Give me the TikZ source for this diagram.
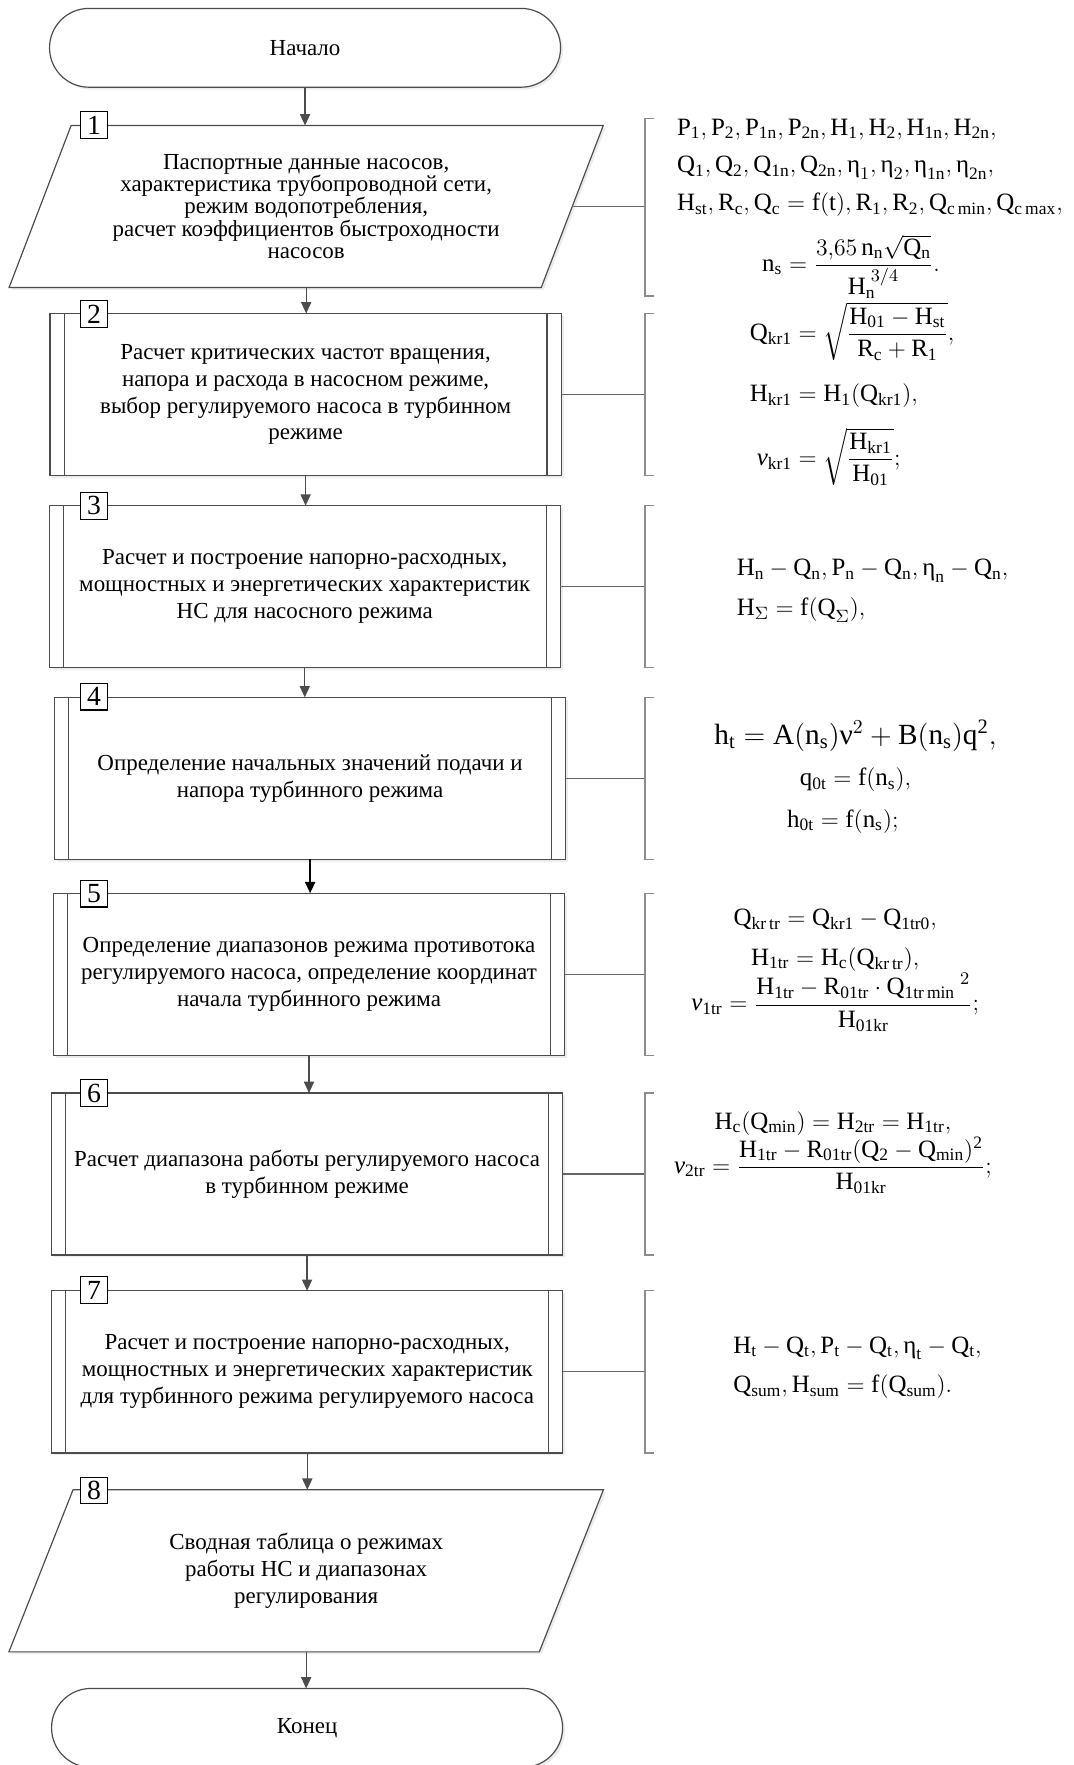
\documentclass[tikz,border=0pt]{standalone}
\usepackage{amsmath}
\usepackage{fontspec}
\setmainfont{Liberation Serif}
\usetikzlibrary{shapes.geometric,arrows.meta,shadows}

\begin{document}
\begin{tikzpicture}[
  every node/.style={inner sep=2pt, outer sep=0pt},
  box/.style={draw=black!70, line width=0.6pt, fill=white,
    drop shadow={shadow xshift=1.2pt, shadow yshift=-1.2pt, fill=black!15},
    font=\fontsize{11.6}{13.6}\selectfont, align=center},
  term/.style={box, rounded corners=0.7cm, minimum width=9.08cm, minimum height=1.4cm},
  proc/.style={box, minimum width=9.08cm, minimum height=2.88cm},
  data/.style={box, trapezium, trapezium left angle=65, trapezium right angle=115,
    trapezium stretches=true, minimum width=10.59cm, minimum height=2.88cm},
  side/.style={draw=black!70, line width=0.6pt},
  numbox/.style={draw=black, line width=0.6pt, fill=white, minimum width=0.49cm,
    minimum height=0.47cm, inner sep=0pt, font=\fontsize{14}{14}\selectfont},
  arr/.style={draw=black!70, line width=0.6pt, -{Triangle[length=2mm,width=1.8mm]}},
  link/.style={draw=black!60, line width=0.6pt},
  bracket/.style={draw=black!45, line width=0.6pt},
  formula/.style={font=\fontsize{12.6}{20}\selectfont, align=center}
]
\useasboundingbox (0,0) rectangle (19.08,31.36);

% blocks of the algorithm
\node[term] (start) at (5.42,30.51) {Начало};
\node[data, font=\fontsize{11.6}{11.2}\selectfont] (b1) at (5.44,27.69) {Паспортные данные насосов,\\ характеристика трубопроводной сети,\\ режим водопотребления,\\ расчет коэффициентов быстроходности\\ насосов};
\node[proc] (b2) at (5.43,24.35) {Расчет критических частот вращения,\\ напора и расхода в насосном режиме,\\ выбор регулируемого насоса в турбинном\\ режиме};
\node[proc] (b3) at (5.415,20.935) {Расчет и построение напорно-расходных,\\ мощностных и энергетических характеристик\\ НС для насосного режима};
\node[proc] (b4) at (5.51,17.53) {Определение начальных значений подачи и\\ напора турбинного режима};
\node[proc] (b5) at (5.49,14.05) {Определение диапазонов режима противотока\\ регулируемого насоса, определение координат\\ начала турбинного режима};
\node[proc] (b6) at (5.456,10.50) {Расчет диапазона работы регулируемого насоса\\ в турбинном режиме};
\node[proc] (b7) at (5.46,6.985) {Расчет и построение напорно-расходных,\\ мощностных и энергетических характеристик\\ для турбинного режима регулируемого насоса};
\node[data] (b8) at (5.44,3.45) {Сводная таблица о режимах\\ работы НС и диапазонах\\ регулирования};
\node[term] (end) at (5.456,0.66) {Конец};

% side lines of the process blocks
\draw[side] ([xshift=0.25cm]b2.north west) -- ([xshift=0.25cm]b2.south west);
\draw[side] ([xshift=-0.25cm]b2.north east) -- ([xshift=-0.25cm]b2.south east);
\draw[side] ([xshift=0.25cm]b3.north west) -- ([xshift=0.25cm]b3.south west);
\draw[side] ([xshift=-0.25cm]b3.north east) -- ([xshift=-0.25cm]b3.south east);
\draw[side] ([xshift=0.25cm]b4.north west) -- ([xshift=0.25cm]b4.south west);
\draw[side] ([xshift=-0.25cm]b4.north east) -- ([xshift=-0.25cm]b4.south east);
\draw[side] ([xshift=0.25cm]b5.north west) -- ([xshift=0.25cm]b5.south west);
\draw[side] ([xshift=-0.25cm]b5.north east) -- ([xshift=-0.25cm]b5.south east);
\draw[side] ([xshift=0.25cm]b6.north west) -- ([xshift=0.25cm]b6.south west);
\draw[side] ([xshift=-0.25cm]b6.north east) -- ([xshift=-0.25cm]b6.south east);
\draw[side] ([xshift=0.25cm]b7.north west) -- ([xshift=0.25cm]b7.south west);
\draw[side] ([xshift=-0.25cm]b7.north east) -- ([xshift=-0.25cm]b7.south east);

% numbers
\node[numbox] (n1) at (1.67,29.14) {1};
\node[numbox] (n2) at (1.67,25.78) {2};
\node[numbox] (n3) at (1.67,22.37) {3};
\node[numbox] (n4) at (1.67,18.98) {4};
\node[numbox] (n5) at (1.67,15.48) {5};
\node[numbox] (n6) at (1.67,11.94) {6};
\node[numbox] (n7) at (1.67,8.44) {7};
\node[numbox] (n8) at (1.67,4.88) {8};

% flow
\draw[arr] (start.south) -- (start.south |- b1.north);
\draw[arr] (b1.south) -- (b1.south |- b2.north);
\draw[arr] (b2.south) -- (b2.south |- b3.north);
\draw[arr] (b3.south) -- (b3.south |- b4.north);
\draw[arr, draw=black, line width=0.9pt] (b4.south) -- (b4.south |- b5.north);
\draw[arr] (b5.south) -- (b5.south |- b6.north);
\draw[arr] (b6.south) -- (b6.south |- b7.north);
\draw[arr] (b7.south) -- (b7.south |- b8.north);
\draw[arr] (b8.south) -- (b8.south |- end.north);

% comments to the blocks
\coordinate (k) at (11.46,0);
\draw[link] (b1.east) -- (b1.east -| k);
\draw[bracket] (11.62,29.26) -- (11.46,29.26) -- (11.46,26.10) -- (11.62,26.10);
\draw[link] (b2.east) -- (b2.east -| k);
\draw[bracket] (b2.north -| k) +(0.16,0) -- (b2.north -| k) -- (b2.south -| k) -- +(0.16,0);
\draw[link] (b3.east) -- (b3.east -| k);
\draw[bracket] (b3.north -| k) +(0.16,0) -- (b3.north -| k) -- (b3.south -| k) -- +(0.16,0);
\draw[link] (b4.east) -- (b4.east -| k);
\draw[bracket] (b4.north -| k) +(0.16,0) -- (b4.north -| k) -- (b4.south -| k) -- +(0.16,0);
\draw[link] (b5.east) -- (b5.east -| k);
\draw[bracket] (b5.north -| k) +(0.16,0) -- (b5.north -| k) -- (b5.south -| k) -- +(0.16,0);
\draw[link] (b6.east) -- (b6.east -| k);
\draw[bracket] (b6.north -| k) +(0.16,0) -- (b6.north -| k) -- (b6.south -| k) -- +(0.16,0);
\draw[link] (b7.east) -- (b7.east -| k);
\draw[bracket] (b7.north -| k) +(0.16,0) -- (b7.north -| k) -- (b7.south -| k) -- +(0.16,0);

% formulas
\node[formula, anchor=west, align=left, font=\fontsize{12.6}{19}\selectfont] (f1) at (11.96,28.38) {$\mathrm{P_1,P_2,P_{1n},P_{2n},H_1,H_2,H_{1n},H_{2n}},$\\ $\mathrm{Q_1,Q_2,Q_{1n},Q_{2n}},\text{η}_1,\text{η}_2,\text{η}_{\mathrm{1n}},\text{η}_{\mathrm{2n}},$\\ $\mathrm{H_{st},R_c,Q_c=f(t),R_1,R_2,Q_{c\,min},Q_{c\,max}},$};
\node[formula] (f1s) at (15.12,26.62) {$\mathrm{n_s}=\dfrac{3{,}65\,\mathrm{n_n}\sqrt{\mathrm{Q_n}}}{\mathrm{H}_{\mathrm{n}}^{\;3/4}}.$};
\node[formula] (f2) at (15.14,24.36) {$\begin{aligned}\mathrm{Q_{kr1}}&=\sqrt{\dfrac{\mathrm{H_{01}-H_{st}}}{\mathrm{R_c+R_1}}},\\[3pt] \mathrm{H_{kr1}}&=\mathrm{H_1(Q_{kr1})},\\[3pt] \textit{ν}_{\mathrm{kr1}}&=\sqrt{\dfrac{\mathrm{H_{kr1}}}{\mathrm{H_{01}}}};\end{aligned}$};
\node[formula, anchor=west, align=left] (f3) at (13.02,20.86) {$\mathrm{H_n-Q_n,P_n-Q_n},\text{η}_{\mathrm{n}}-\mathrm{Q_n},$\\ $\mathrm{H}_\Sigma=\mathrm{f(Q}_\Sigma),$};
\node[formula, font=\fontsize{12.6}{21}\selectfont] (f4) at (15.2,17.56) {{\fontsize{14.8}{21}\selectfont$\mathrm{h_t}=\mathrm{A(n_s)}\text{ν}^2+\mathrm{B(n_s)q^2},$}\\ $\mathrm{q_{0t}=f(n_s)},$\hspace*{0.45cm}\\ $\mathrm{h_{0t}=f(n_s)};$\hspace*{0.45cm}};
\node[formula] (f5) at (14.84,14.12) {$\mathrm{Q_{kr\,tr}=Q_{kr1}-Q_{1tr0}},$\\ $\mathrm{H_{1tr}=H_c(Q_{kr\,tr})},$\\ $\textit{ν}_{\mathrm{1tr}}=\dfrac{\mathrm{H_{1tr}-R_{01tr}\cdot Q_{1tr\,min}}^{\;2}}{\mathrm{H_{01kr}}};$};
\node[formula] (f6) at (14.8,10.88) {$\mathrm{H_c(Q_{min})=H_{2tr}=H_{1tr}},$\\ $\textit{ν}_{\mathrm{2tr}}=\dfrac{\mathrm{H_{1tr}-R_{01tr}(Q_2-Q_{min})^2}}{\mathrm{H_{01kr}}};$};
\node[formula, anchor=west, align=left] (f7) at (12.96,7.06) {$\mathrm{H_t-Q_t,P_t-Q_t},\text{η}_{\mathrm{t}}-\mathrm{Q_t},$\\ $\mathrm{Q_{sum},H_{sum}=f(Q_{sum})}.$};
\end{tikzpicture}
\end{document}
